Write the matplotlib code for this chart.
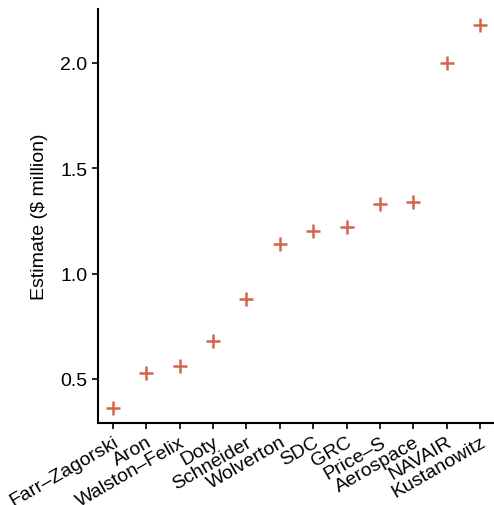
import matplotlib
matplotlib.use("Agg")
import matplotlib.pyplot as plt

plt.rcParams["font.family"] = ["Liberation Sans", "DejaVu Sans"]

models = ["Farr\u2013Zagorski", "Aron", "Walston\u2013Felix", "Doty", "Schneider", "Wolverton",
          "SDC", "GRC", "Price\u2013S", "Aerospace", "NAVAIR", "Kustanowitz"]
estimates = [0.36, 0.53, 0.56, 0.68, 0.88, 1.14, 1.20, 1.22, 1.33, 1.34, 2.00, 2.18]
yticks = [0.5, 1.0, 1.5, 2.0]

fig = plt.figure(figsize=(4.94, 5.06), dpi=100)
ax = fig.add_axes([98/494, 82/506, 1 - 98/494, (424-10)/506])
x = list(range(len(models)))
ax.scatter(x, estimates, marker="+", s=90, color="#D2654A", linewidths=1.8, zorder=3)
ax.set_xlim(-0.45, len(models) - 1 + 0.42)
ax.set_ylim(0.291, 2.256)
ax.set_yticks(yticks)
ax.set_yticklabels([f"{v:.1f}" for v in yticks])
ax.set_xticks(x)
ax.set_xticklabels(models, rotation=30, ha="right", rotation_mode="anchor")
ax.tick_params(axis="both", labelsize=14, length=4, width=1.2, color="black", labelcolor="black", direction="out", pad=3.5)
for s in ["top", "right"]:
    ax.spines[s].set_visible(False)
for s in ["left", "bottom"]:
    ax.spines[s].set_linewidth(1.5)
ax.set_ylabel("Estimate ($ million)", fontsize=14, labelpad=9)
fig.savefig("out.png", dpi=100)
